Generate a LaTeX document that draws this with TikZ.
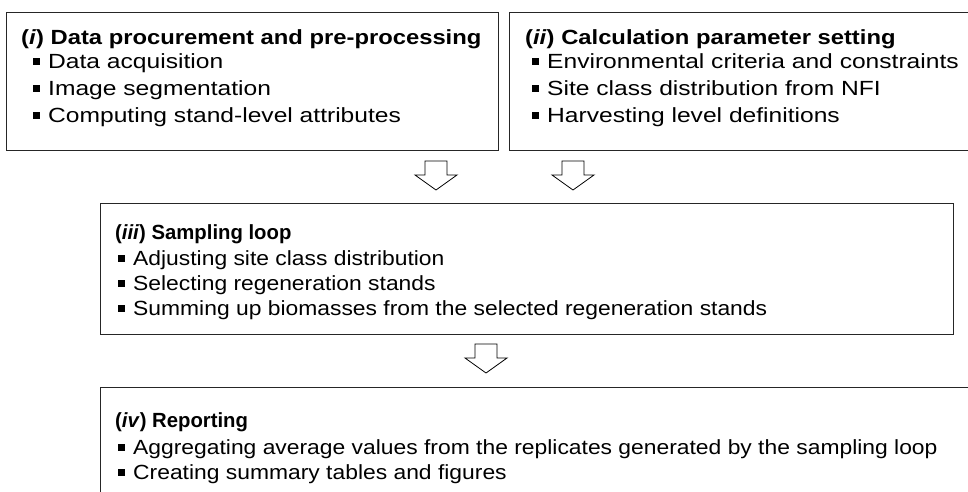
\documentclass[tikz,border=0pt]{standalone}
\usepackage{fontspec}
\setmainfont{Liberation Sans}
\newfontfamily\upperhead[FakeStretch=1.16]{Liberation Sans}
\newfontfamily\upperbody[FakeStretch=1.2]{Liberation Sans}
\newfontfamily\lowerhead[FakeStretch=0.99]{Liberation Sans}
\newfontfamily\lowerbody[FakeStretch=1.115]{Liberation Sans}
\usetikzlibrary{positioning}

% small square bullet
\newcommand{\blt}{\rule[3.5pt]{7pt}{7pt}\hspace{8pt}}
% hollow down arrow, top centre at (#1,#2)
\newcommand{\hollowdown}[2]{%
  \draw[fill=white,line width=0.8pt] (#1-11,#2) -- (#1+11,#2) -- (#1+11,#2+14) -- (#1+21,#2+14)
    -- (#1,#2+29) -- (#1-21,#2+14) -- (#1-11,#2+14) -- cycle;}

\begin{document}
\begin{tikzpicture}[x=1pt,y=-1pt,
    stepbox/.style={draw=black!85,line width=1.2pt,anchor=north west,inner sep=0pt},
    headtxt/.style={anchor=base west,inner sep=0pt,font=\fontsize{20.5}{24}\upperhead\bfseries},
    itemtxt/.style={anchor=base west,inner sep=0pt,font=\fontsize{20.5}{24}\upperbody},
    lowhead/.style={anchor=base west,inner sep=0pt,font=\fontsize{20.5}{24}\lowerhead\bfseries},
    lowitem/.style={anchor=base west,inner sep=0pt,font=\fontsize{20.5}{24}\lowerbody}]
  \useasboundingbox (0,0) rectangle (968,492);

  % boxes
  \node[stepbox,minimum width=492pt,minimum height=138pt] (procbox) at (6,12) {};
  \node[stepbox,minimum width=480pt,minimum height=138pt] (parbox) at (509,12) {};
  \node[stepbox,minimum width=853pt,minimum height=131pt] (loopbox) at (100,203) {};
  \node[stepbox,minimum width=880pt,minimum height=140pt] (repbox) at (100,387) {};

  % (i)
  \node[headtxt] (proctitle) at (21,45) {(\textit{i}) Data procurement and pre-processing};
  \node[itemtxt] (proc1) at (33,68.5) {\blt Data acquisition};
  \node[itemtxt] (proc2) at (33,95.5) {\blt Image segmentation};
  \node[itemtxt] (proc3) at (33,122.5) {\blt Computing stand-level attributes};

  % (ii)
  \node[headtxt] (partitle) at (525,45) {(\textit{ii}) Calculation parameter setting};
  \node[itemtxt] (par1) at (532,68.5) {\blt Environmental criteria and constraints};
  \node[itemtxt] (par2) at (532,95.5) {\blt Site class distribution from NFI};
  \node[itemtxt] (par3) at (532,122.5) {\blt Harvesting level definitions};

  % (iii)
  \node[lowhead] (looptitle) at (115,239) {(\textit{iii}) Sampling loop};
  \node[lowitem] (loop1) at (118,265) {\blt Adjusting site class distribution};
  \node[lowitem] (loop2) at (118,290) {\blt Selecting regeneration stands};
  \node[lowitem] (loop3) at (118,315) {\blt Summing up biomasses from the selected regeneration stands};

  % (iv)
  \node[lowhead] (reptitle) at (115,427) {(\textit{iv}) Reporting};
  \node[lowitem] (rep1) at (118,454) {\blt Aggregating average values from the replicates generated by the sampling loop};
  \node[lowitem] (rep2) at (118,479) {\blt Creating summary tables and figures};

  % arrows
  \hollowdown{436}{161}
  \hollowdown{573}{161}
  \hollowdown{486}{344}

\end{tikzpicture}
\end{document}
